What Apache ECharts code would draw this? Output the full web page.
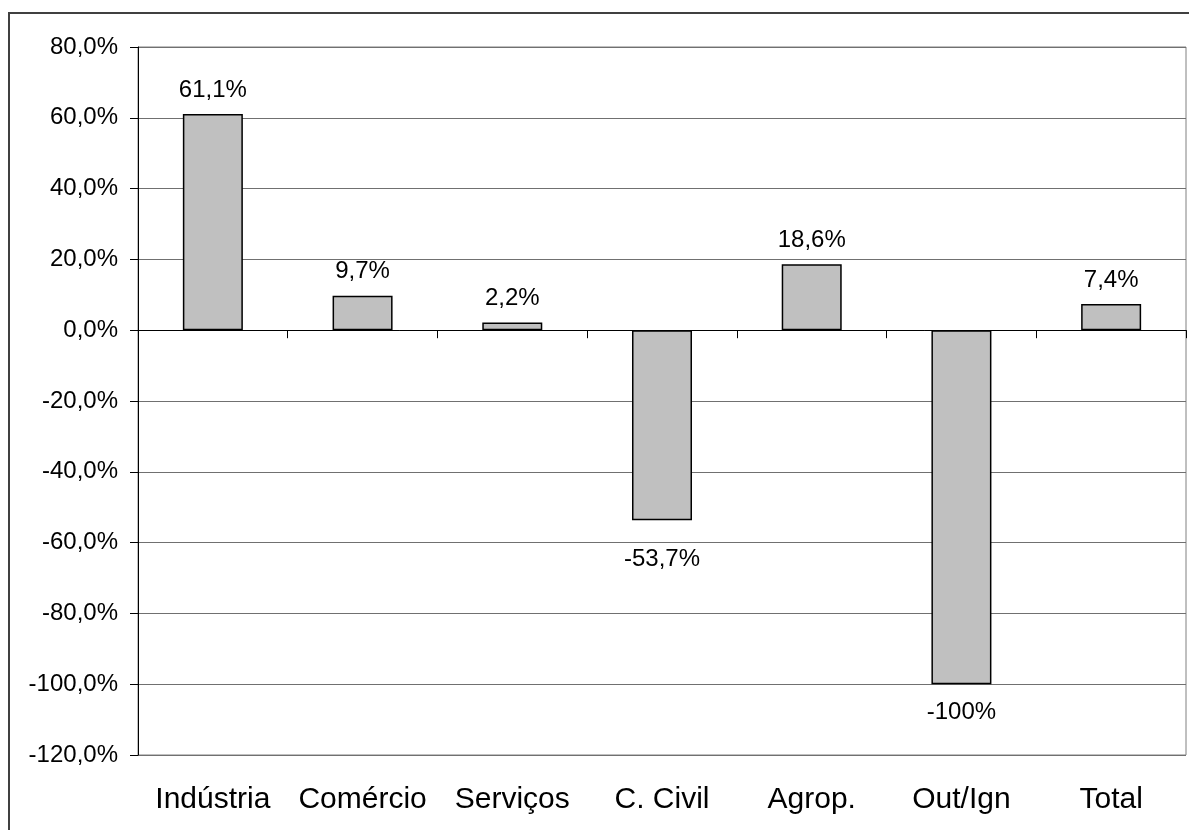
<!DOCTYPE html>
<html><head><meta charset="utf-8">
<script src="https://cdn.jsdelivr.net/npm/echarts@6/dist/echarts.min.js"></script>
<style>html,body{margin:0;padding:0;background:#fff}#c{width:1189px;height:830px}</style>
</head><body><div id="c"></div>
<script>
const categories = ['Indústria','Comércio','Serviços','C. Civil','Agrop.','Out/Ign','Total'];
const values = [61.1, 9.7, 2.2, -53.7, 18.6, -100, 7.4];
const yMin = -120, yMax = 80, yStep = 20;

const FONT = '"Liberation Sans", Arial, sans-serif';
const chart = echarts.init(document.getElementById('c'));
function fmtLabel(v){ return (Math.abs(v) >= 100 ? v.toFixed(0) : v.toFixed(1).replace('.', ',')) + '%'; }
const seriesData = values.map(v => v < 0
  ? { value: v, label: { position: 'bottom', distance: v <= -100 ? 16 : 27 } }
  : v);
chart.setOption({
  animation: false,
  backgroundColor: '#fff',
  graphic: [{ type: 'rect', shape: { x: 9, y: 13, width: 1300, height: 1000 },
    style: { fill: 'none', stroke: '#404040', lineWidth: 2 }, silent: true }],
  grid: { left: 138, right: 3, top: 47, bottom: 75, show: true, borderColor: '#808080', borderWidth: 1, backgroundColor: 'transparent' },
  xAxis: [{
    type: 'category', data: categories,
    axisLine: { onZero: true, lineStyle: { color: '#000', width: 1 } },
    axisTick: { show: true, inside: false, length: 8, lineStyle: { color: '#000' } },
    axisLabel: { show: false }, splitLine: { show: false }
  }, {
    type: 'category', data: categories, position: 'bottom',
    axisLine: { show: false, onZero: false }, axisTick: { show: false },
    axisLabel: { show: true, interval: 0, margin: 30, color: '#000', fontSize: 30, fontFamily: FONT }
  }],
  yAxis: {
    type: 'value', min: yMin, max: yMax, interval: yStep,
    axisLine: { show: true, lineStyle: { color: '#000' } },
    axisTick: { show: true, length: 8, lineStyle: { color: '#000' } },
    axisLabel: { margin: 20, color: '#000', fontSize: 24, fontFamily: FONT,
      formatter: v => v.toFixed(1).replace('.', ',') + '%' },
    splitLine: { show: true, lineStyle: { color: '#707070', width: 1 } }
  },
  series: [{
    type: 'bar', data: seriesData, xAxisIndex: 0, barWidth: 60,
    itemStyle: { color: '#c0c0c0', borderColor: '#000', borderWidth: 1.5 },
    label: { show: true, color: '#000', fontSize: 24, fontFamily: FONT, distance: 12,
      position: 'top', formatter: p => fmtLabel(p.value) }
  }]
});
</script></body></html>
